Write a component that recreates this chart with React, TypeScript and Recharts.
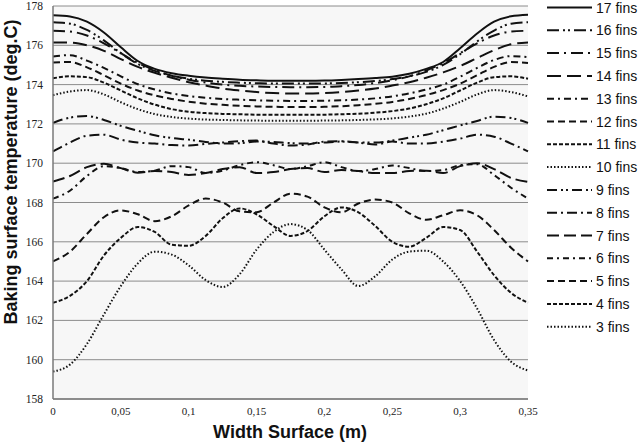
import React from 'react';
import { LineChart, Line, XAxis, YAxis, CartesianGrid } from 'recharts';

// width positions along the baking surface (m)
const widthX = [
  0, 0.0125, 0.025, 0.0375, 0.05, 0.0625, 0.075, 0.0875, 0.1, 0.1125, 0.125, 0.1375, 0.15, 0.1625, 0.175,
  0.1875, 0.2, 0.2125, 0.225, 0.2375, 0.25, 0.2625, 0.275, 0.2875, 0.3, 0.3125, 0.325, 0.3375, 0.35,
];

// surface temperature (deg.C) per fin count
const fins17 = [177.53, 177.47, 177.2, 176.65, 175.9, 175.2, 174.8, 174.58, 174.45, 174.36, 174.3, 174.25, 174.22, 174.2, 174.2,
  174.2, 174.21, 174.24, 174.28, 174.33, 174.4, 174.55, 174.8, 175.15, 175.85, 176.6, 177.2, 177.48, 177.56];
const fins16 = [177.17, 177.1, 176.78, 176.25, 175.6, 175.05, 174.7, 174.45, 174.3, 174.2, 174.14, 174.1, 174.07, 174.05, 174.05,
  174.05, 174.06, 174.08, 174.12, 174.18, 174.28, 174.42, 174.65, 175.0, 175.55, 176.2, 176.75, 177.1, 177.17];
const fins15 = [176.74, 176.7, 176.5, 176.1, 175.6, 175.1, 174.75, 174.45, 174.25, 174.1, 174.0, 173.94, 173.9, 173.88, 173.87,
  173.87, 173.88, 173.92, 173.98, 174.08, 174.22, 174.42, 174.72, 175.1, 175.6, 176.1, 176.5, 176.7, 176.74];
const fins14 = [176.14, 176.14, 176.0, 175.72, 175.3, 174.9, 174.6, 174.35, 174.12, 173.95, 173.8, 173.7, 173.62, 173.57, 173.55,
  173.55, 173.57, 173.62, 173.7, 173.8, 173.95, 174.12, 174.35, 174.62, 174.95, 175.35, 175.75, 176.05, 176.14];
const fins13 = [175.43, 175.5, 175.22, 174.85, 174.42, 174.02, 173.75, 173.55, 173.42, 173.33, 173.27, 173.23, 173.2, 173.18, 173.17,
  173.17, 173.18, 173.2, 173.24, 173.3, 173.4, 173.55, 173.75, 174.0, 174.4, 174.85, 175.25, 175.45, 175.4];
const fins12 = [175.12, 175.15, 174.88, 174.48, 174.05, 173.7, 173.45, 173.27, 173.13, 173.03, 172.97, 172.92, 172.89, 172.87, 172.86,
  172.86, 172.87, 172.9, 172.95, 173.02, 173.12, 173.27, 173.47, 173.72, 174.05, 174.48, 174.9, 175.15, 175.1];
const fins11 = [174.32, 174.42, 174.38, 174.1, 173.7, 173.3, 172.98, 172.75, 172.62, 172.55, 172.51, 172.49, 172.47, 172.46, 172.46,
  172.46, 172.47, 172.49, 172.52, 172.57, 172.65, 172.78, 173.0, 173.3, 173.7, 174.1, 174.38, 174.42, 174.3];
const fins10 = [173.46, 173.65, 173.72, 173.5, 173.1, 172.75, 172.5, 172.35, 172.27, 172.22, 172.2, 172.18, 172.17, 172.16, 172.16,
  172.16, 172.17, 172.18, 172.2, 172.23, 172.28, 172.37, 172.52, 172.78, 173.12, 173.5, 173.72, 173.62, 173.4];
const fins9 = [172.05, 172.32, 172.4, 172.2, 171.9, 171.65, 171.42, 171.28, 171.2, 171.08, 171.0, 171.02, 171.1, 171.08, 171.02,
  171.0, 171.05, 171.1, 171.05, 171.05, 171.15, 171.3, 171.45, 171.68, 171.92, 172.15, 172.37, 172.3, 172.05];
const fins8 = [170.6, 171.05, 171.4, 171.45, 171.2, 171.05, 171.0, 170.92, 170.9, 170.98, 171.05, 171.12, 171.15, 171.0, 170.9,
  170.95, 171.1, 171.12, 171.05, 170.95, 171.1, 171.0, 171.0, 171.1, 171.25, 171.45, 171.35, 171.0, 170.6];
const fins7 = [169.07, 169.35, 169.8, 169.97, 169.75, 169.52, 169.6, 169.55, 169.4, 169.5, 169.7, 169.8, 169.5, 169.55, 169.7,
  169.75, 169.55, 169.65, 169.6, 169.5, 169.5, 169.6, 169.62, 169.5, 169.85, 170.0, 169.7, 169.25, 169.05];
const fins6 = [168.2, 168.6, 169.35, 169.85, 169.75, 169.55, 169.62, 169.85, 169.8, 169.5, 169.62, 169.9, 170.05, 169.9, 169.7,
  169.85, 170.05, 169.8, 169.6, 169.7, 169.88, 169.75, 169.6, 169.65, 169.9, 169.95, 169.4, 168.75, 168.2];
const fins5 = [165.0, 165.5, 166.4, 167.25, 167.6, 167.4, 167.05, 167.3, 167.85, 168.2, 168.0, 167.55, 167.5, 168.0, 168.45,
  168.3, 167.75, 167.5, 167.95, 168.15, 168.0, 167.45, 167.12, 167.35, 167.6, 167.35, 166.6, 165.7, 165.0];
const fins4 = [162.9, 163.25, 164.0, 165.3, 166.2, 166.75, 166.5, 165.85, 165.8, 166.3, 167.2, 167.7, 167.4, 166.8, 166.3,
  166.55, 167.3, 167.75, 167.5, 166.8, 166.0, 165.75, 166.2, 166.75, 166.6, 165.5, 164.3, 163.4, 162.9];
const fins3 = [159.4, 159.75, 160.8, 162.3, 163.75, 164.9, 165.5, 165.35, 164.8, 164.05, 163.7, 164.35, 165.6, 166.5, 166.9,
  166.6, 165.6, 164.6, 163.75, 164.25, 165.1, 165.5, 165.55, 165.0, 164.0, 162.6, 161.0, 159.9, 159.45];

const yTicks = [158, 160, 162, 164, 166, 168, 170, 172, 174, 176, 178];
const xTicks = [0, 0.05, 0.1, 0.15, 0.2, 0.25, 0.3, 0.35];

const seriesList = [
  { key: 'f17', label: '17 fins', values: fins17, dash: undefined, w: 2 },
  { key: 'f16', label: '16 fins', values: fins16, dash: '12 4 2 3 2 4', w: 2 },
  { key: 'f15', label: '15 fins', values: fins15, dash: '12 5 2 5', w: 2 },
  { key: 'f14', label: '14 fins', values: fins14, dash: '14 6', w: 2 },
  { key: 'f13', label: '13 fins', values: fins13, dash: '7 4 2 4', w: 2 },
  { key: 'f12', label: '12 fins', values: fins12, dash: '7 4', w: 2 },
  { key: 'f11', label: '11 fins', values: fins11, dash: '4 2', w: 2 },
  { key: 'f10', label: '10 fins', values: fins10, dash: '1.5 2', w: 2 },
  { key: 'f9', label: '9 fins', values: fins9, dash: '10 4 2 3 2 4', w: 2 },
  { key: 'f8', label: '8 fins', values: fins8, dash: '10 4 2 4', w: 2 },
  { key: 'f7', label: '7 fins', values: fins7, dash: '12 5', w: 2 },
  { key: 'f6', label: '6 fins', values: fins6, dash: '6 4 2 4', w: 2 },
  { key: 'f5', label: '5 fins', values: fins5, dash: '7 4', w: 2 },
  { key: 'f4', label: '4 fins', values: fins4, dash: '4 2', w: 2 },
  { key: 'f3', label: '3 fins', values: fins3, dash: '1.5 2', w: 2 },
];

const chartData = widthX.map((x, i) => {
  const row: Record<string, number> = { x };
  seriesList.forEach(s => { row[s.key] = s.values[i]; });
  return row;
});

const serif = '"Liberation Serif", "Times New Roman", serif';
const sans = '"Liberation Sans", Arial, sans-serif';

const App: React.FC = () => {
  return (
    <div style={{ position: 'absolute', left: 0, top: 0, width: 640, height: 442, background: '#fff' }}>
      <LineChart width={640} height={442} data={chartData} margin={{ top: 6, right: 112, bottom: 13, left: 0 }}>
        <CartesianGrid vertical={false} stroke="#8c8c8c" fill="#f7f7f7" />
        <XAxis
          dataKey="x"
          type="number"
          domain={[0, 0.35]}
          ticks={xTicks}
          interval={0}
          height={30}
          tickFormatter={(v: number) => String(v).replace('.', ',')}
          axisLine={{ stroke: '#7a7a7a', strokeWidth: 1.5 }}
          tickLine={false}
          tickSize={6}
          tickMargin={2}
          tick={{ fontSize: 11, fill: '#222', fontFamily: serif }}
        />
        <YAxis
          domain={[158, 178]}
          ticks={yTicks}
          interval={0}
          width={53}
          axisLine={{ stroke: '#7a7a7a', strokeWidth: 1.5 }}
          tickLine={false}
          tickSize={8}
          tickMargin={2}
          tick={{ fontSize: 11.5, fill: '#222', fontFamily: serif }}
        />
        {seriesList.map(s => (
          <Line
            key={s.key}
            dataKey={s.key}
            name={s.label}
            type="monotone"
            stroke="#111"
            strokeWidth={s.w}
            strokeDasharray={s.dash}
            dot={false}
            isAnimationActive={false}
          />
        ))}
      </LineChart>
      <svg width={640} height={442} style={{ position: 'absolute', left: 0, top: 0, pointerEvents: 'none' }}>
        <text
          transform="translate(17,172) rotate(-90)"
          textAnchor="middle"
          fontFamily={sans}
          fontWeight="bold"
          fontSize={18}
          fill="#111"
        >
          Baking surface temperature (deg.C)
        </text>
        <text x={290} y={438} textAnchor="middle" fontFamily={sans} fontWeight="bold" fontSize={18} fill="#111">
          Width Surface (m)
        </text>
        {seriesList.map((s, i) => {
          const y = 7.5 + i * 22.8;
          return (
            <g key={s.key}>
              <line x1={547} x2={592} y1={y} y2={y} stroke="#111" strokeWidth={s.w} strokeDasharray={s.dash} />
              <text x={596} y={y} dominantBaseline="central" fontFamily={sans} fontSize={14} fill="#111">
                {s.label}
              </text>
            </g>
          );
        })}
      </svg>
    </div>
  );
};

export default App;
